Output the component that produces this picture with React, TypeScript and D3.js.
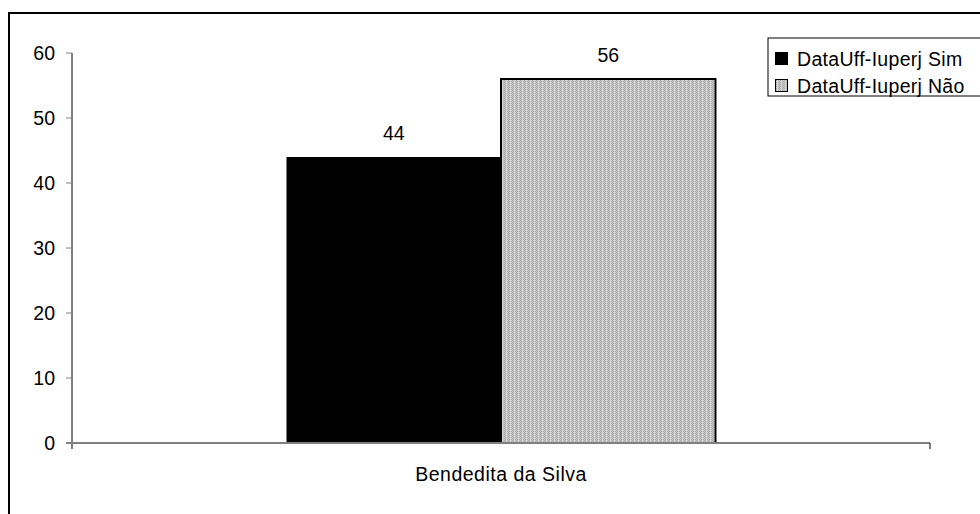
import React from "react";
import * as d3 from "d3";

const categories = ["Bendedita da Silva"];
const seriesNames = ["DataUff-Iuperj Sim", "DataUff-Iuperj Não"];
const seriesSim = [44];
const seriesNao = [56];
const yTicks = [0, 10, 20, 30, 40, 50, 60];

const W = 980;
const H = 514;
const FONT = "'Liberation Sans', Arial, sans-serif";
const FS = 19.5;

export default function App() {
  const x0 = d3.scaleBand<string>().domain(categories).range([72, 930]).paddingInner(0).paddingOuter(0);
  const x1 = d3.scaleBand<string>().domain(seriesNames).range([0, x0.bandwidth()]).paddingOuter(1).paddingInner(0);
  const y = d3.scaleLinear().domain([0, 60]).range([443, 53]);
  const data = categories.map((c, i) => ({ c, vals: [seriesSim[i], seriesNao[i]] }));

  return (
    <svg width={W} height={H} style={{ position: "absolute", left: 0, top: 0, display: "block" }} fontFamily={FONT}>
      <defs>
        <pattern id="grayPat" width="4" height="2" patternUnits="userSpaceOnUse">
          <rect width="4" height="2" fill="#c6c6c6" />
          <rect x="0" y="0" width="1" height="1" fill="#a8a8a8" />
          <rect x="1" y="1" width="1" height="1" fill="#a8a8a8" />
          <rect x="2" y="0" width="1" height="2" fill="#d8d8d8" />
          <rect x="3" y="1" width="1" height="1" fill="#b4b4b4" />
        </pattern>
      </defs>
      <rect width={W} height={H} fill="#fff" />
      {/* outer frame */}
      <rect x={9} y={13} width={W + 10} height={H + 10} fill="none" stroke="#000" strokeWidth={2} />

      {/* bars */}
      {data.map((d) => (
        <g key={d.c} transform={`translate(${x0(d.c)},0)`}>
          {d.vals.map((v, j) => {
            const bx = x1(seriesNames[j])!;
            const bw = x1.bandwidth();
            return (
              <g key={j}>
                <rect
                  x={bx}
                  y={y(v)}
                  width={bw}
                  height={y(0) - y(v)}
                  fill={j === 0 ? "#000" : "url(#grayPat)"}
                  stroke="#000"
                  strokeWidth={j === 0 ? 0 : 2}
                />
                <text x={bx + bw / 2} y={y(v) - 17} textAnchor="middle" fontSize={FS} fill="#000">
                  {v}
                </text>
              </g>
            );
          })}
        </g>
      ))}

      {/* y axis */}
      <line x1={72} x2={72} y1={53} y2={449} stroke="#000" strokeWidth={1} />
      {yTicks.map((t) => (
        <g key={t}>
          <line x1={66} x2={72} y1={y(t)} y2={y(t)} stroke="#808080" strokeWidth={1} />
          <text x={55} y={y(t) + 7} textAnchor="end" fontSize={FS} fill="#000">
            {t}
          </text>
        </g>
      ))}
      {/* x axis */}
      <line x1={66} x2={930} y1={443} y2={443} stroke="#808080" strokeWidth={2} />
      <line x1={930} x2={930} y1={443} y2={449} stroke="#000" strokeWidth={1} />
      {categories.map((c) => (
        <text key={c} x={x0(c)! + x0.bandwidth() / 2} y={481} textAnchor="middle" fontSize={FS} letterSpacing={0.5} fill="#000">
          {c}
        </text>
      ))}

      {/* legend */}
      <rect x={768} y={38} width={230} height={58} fill="#fff" stroke="#000" strokeWidth={1} />
      {seriesNames.map((s, i) => (
        <g key={s} transform={`translate(775,${52 + i * 27})`}>
          <rect x={0.5} y={0.5} width={12} height={12} fill={i === 0 ? "#000" : "url(#grayPat)"} stroke="#000" strokeWidth={1} />
          <text x={22} y={14} fontSize={FS} letterSpacing={0.3} fill="#000">
            {s}
          </text>
        </g>
      ))}
    </svg>
  );
}
